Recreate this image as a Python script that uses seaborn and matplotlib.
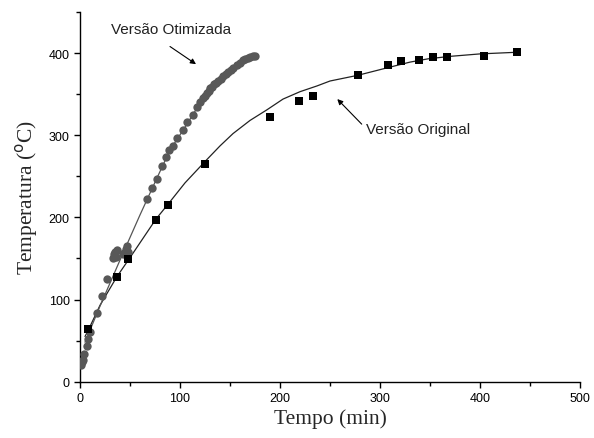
import numpy as np
import pandas as pd
import matplotlib
matplotlib.use("Agg")
import matplotlib.pyplot as plt
import seaborn as sns
from matplotlib.ticker import MultipleLocator

# Versão Original - measured points (squares)
orig_t = [8, 37, 48, 76, 88, 125, 190, 219, 233, 278, 308, 321, 339, 353, 367, 404, 437]
orig_T = [64, 128, 149, 197, 215, 265, 322, 342, 348, 373, 385, 390, 392, 395, 395, 397, 401]

# Versão Original - fitted curve
orig_fit_t = [5, 8, 20, 37, 50, 76, 88, 105, 125, 140, 153, 170, 187, 203, 220, 237, 250, 278, 307, 330, 348, 370, 400, 437]
orig_fit_T = [55, 62, 93, 128, 151, 198, 216, 242, 268, 287, 302, 318, 331, 344, 353, 360, 366, 373, 382, 389, 393, 396, 399, 401]

# Versão Otimizada - measured points (circles)
otim_t = [1, 2, 3, 4, 7, 8, 10, 17, 22, 27, 33, 34, 35, 36, 37, 43, 44, 46, 47, 48,
          67, 72, 77, 82, 86, 89, 93, 97, 103, 107, 113, 117, 120, 123, 125, 127, 129,
          130, 132, 134, 136, 138, 141, 143, 146, 148, 151, 153, 157, 160, 163, 165,
          168, 170, 173, 175]
otim_T = [20, 24, 26, 34, 44, 52, 60, 84, 104, 125, 150, 155, 158, 152, 160, 155, 157, 162, 165, 158,
          222, 236, 247, 262, 274, 282, 287, 297, 306, 316, 325, 334, 340, 345, 348, 351, 354,
          357, 359, 362, 364, 366, 369, 372, 375, 377, 380, 382, 385, 388, 391, 393,
          394, 395, 396, 397]

# Versão Otimizada - fitted curve
otim_fit_t = [5, 20, 40, 60, 77, 90, 103, 117, 130, 143, 155, 165, 175]
otim_fit_T = [48, 92, 148, 203, 248, 282, 306, 333, 356, 372, 385, 392, 397]

x_ticks = [0, 100, 200, 300, 400, 500]
y_ticks = [0, 100, 200, 300, 400]

sns.set_style("ticks")
plt.rcParams['font.family'] = ['Liberation Sans', 'DejaVu Sans']

fig = plt.figure(figsize=(5.94, 4.39), dpi=100)
ax = fig.add_axes([80/594, 1-382.7/439, 500/594, (382.7-13)/439])

df_o = pd.DataFrame({"t": orig_t, "T": orig_T})
df_of = pd.DataFrame({"t": orig_fit_t, "T": orig_fit_T})
df_z = pd.DataFrame({"t": otim_t, "T": otim_T})
df_zf = pd.DataFrame({"t": otim_fit_t, "T": otim_fit_T})

sns.lineplot(data=df_of, x="t", y="T", ax=ax, color="#222222", lw=0.9, sort=False)
sns.lineplot(data=df_zf, x="t", y="T", ax=ax, color="#555555", lw=0.9, sort=False)
sns.scatterplot(data=df_z, x="t", y="T", ax=ax, color="#585858", marker="o", s=36,
                edgecolor="#585858", linewidth=0, zorder=3)
sns.scatterplot(data=df_o, x="t", y="T", ax=ax, color="black", marker="s", s=30,
                edgecolor="black", linewidth=0, zorder=4)

ax.set_xlim(0, 500)
ax.set_ylim(0, 450)
ax.set_xticks(x_ticks)
ax.set_yticks(y_ticks)
ax.xaxis.set_minor_locator(MultipleLocator(50))
ax.yaxis.set_minor_locator(MultipleLocator(50))
ax.tick_params(axis="both", which="major", length=4, width=1, labelsize=9, color="black", labelcolor="black")
ax.tick_params(axis="both", which="minor", length=3, width=1, color="black")
sns.despine(ax=ax)
for s in ["left", "bottom"]:
    ax.spines[s].set_color("black")
    ax.spines[s].set_linewidth(1)

ax.set_xlabel("Tempo (min)", family=["Liberation Serif"], fontsize=15.5, labelpad=3)
ax.set_ylabel("Temperatura ($^{\\mathrm{o}}$C)", family=["Liberation Serif"], fontsize=15.5, labelpad=6)

ax.text(91, 429, "Versão Otimizada", ha="center", va="center", fontsize=11, color="#222222")
ax.annotate("", xy=(116, 386.5), xytext=(90, 408),
            arrowprops=dict(arrowstyle="-|>", color="black", lw=0.8, mutation_scale=8,
                            shrinkA=0, shrinkB=0))
ax.text(338, 307, "Versão Original", ha="center", va="center", fontsize=11, color="#222222")
ax.annotate("", xy=(257.3, 344), xytext=(281.7, 313.5),
            arrowprops=dict(arrowstyle="-|>", color="black", lw=0.8, mutation_scale=8,
                            shrinkA=0, shrinkB=0))

fig.savefig("out.png", dpi=100)
